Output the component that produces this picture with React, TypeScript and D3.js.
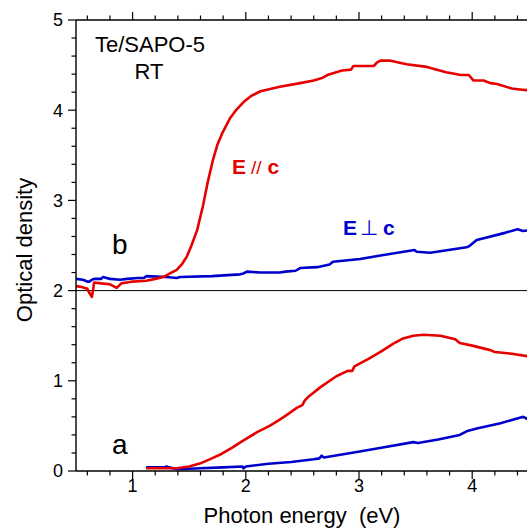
import React from "react";
import * as d3 from "d3";

// Photon energy (eV) vs optical density for Te in SAPO-5 at room temperature.
// Curves "b" are offset by +2 above curves "a".
const parallelB: [number, number][] = [
  [0.5, 2.05], [0.55, 2.04], [0.6, 2.02], [0.62, 1.97], [0.64, 1.93], [0.65, 2.0], [0.66, 2.09],
  [0.72, 2.08], [0.8, 2.07], [0.86, 2.03], [0.9, 2.08], [0.95, 2.09], [1.0, 2.1], [1.12, 2.11],
  [1.2, 2.13], [1.27, 2.15], [1.33, 2.19], [1.39, 2.23], [1.44, 2.3], [1.48, 2.38], [1.52, 2.5],
  [1.57, 2.67], [1.62, 2.93], [1.66, 3.18], [1.71, 3.45], [1.75, 3.62], [1.79, 3.74], [1.86, 3.91],
  [1.92, 4.01], [1.98, 4.09], [2.05, 4.16], [2.13, 4.21], [2.3, 4.26], [2.48, 4.3], [2.6, 4.33],
  [2.68, 4.36], [2.72, 4.39], [2.77, 4.41], [2.85, 4.44], [2.93, 4.45], [2.95, 4.49], [3.05, 4.49],
  [3.13, 4.49], [3.16, 4.53], [3.19, 4.55], [3.27, 4.55], [3.42, 4.51], [3.6, 4.48], [3.77, 4.42],
  [3.9, 4.39], [3.97, 4.39], [4.01, 4.33], [4.1, 4.33], [4.16, 4.3], [4.22, 4.29], [4.35, 4.24],
  [4.42, 4.23], [4.5, 4.22],
];

const perpB: [number, number][] = [
  [0.5, 2.13], [0.56, 2.12], [0.6, 2.1], [0.62, 2.1], [0.64, 2.12], [0.66, 2.13], [0.72, 2.13],
  [0.74, 2.15], [0.77, 2.14], [0.8, 2.13], [0.89, 2.12], [0.95, 2.13], [1.05, 2.14], [1.1, 2.14],
  [1.12, 2.16], [1.3, 2.15], [1.39, 2.14], [1.42, 2.15], [1.7, 2.16], [1.95, 2.18], [1.98, 2.19],
  [2.01, 2.21], [2.13, 2.2], [2.3, 2.2], [2.35, 2.21], [2.44, 2.22], [2.48, 2.25], [2.63, 2.26],
  [2.74, 2.29], [2.77, 2.32], [3.01, 2.35], [3.19, 2.39], [3.49, 2.45], [3.51, 2.43], [3.63, 2.42],
  [3.95, 2.48], [3.97, 2.49], [4.04, 2.56], [4.29, 2.64], [4.4, 2.68], [4.45, 2.66], [4.5, 2.67],
];

const parallelA: [number, number][] = [
  [1.12, 0.03], [1.25, 0.03], [1.39, 0.03], [1.5, 0.05], [1.6, 0.085], [1.7, 0.14], [1.77, 0.18],
  [1.88, 0.26], [1.98, 0.34], [2.1, 0.43], [2.21, 0.5], [2.3, 0.57], [2.36, 0.62], [2.45, 0.7],
  [2.5, 0.73], [2.52, 0.78], [2.55, 0.82], [2.66, 0.93], [2.8, 1.05], [2.9, 1.11], [2.94, 1.11],
  [2.96, 1.16], [3.08, 1.24], [3.19, 1.32], [3.3, 1.41], [3.39, 1.47], [3.48, 1.5], [3.57, 1.51],
  [3.72, 1.5], [3.85, 1.46], [3.89, 1.42], [4.0, 1.39], [4.16, 1.34], [4.2, 1.32], [4.35, 1.3],
  [4.5, 1.27],
];

const perpA: [number, number][] = [
  [1.12, 0.04], [1.28, 0.04], [1.3, 0.05], [1.32, 0.04], [1.4, 0.02], [1.6, 0.03], [1.8, 0.04],
  [1.97, 0.05], [1.98, 0.03], [2.0, 0.05], [2.2, 0.08], [2.4, 0.1], [2.6, 0.13], [2.65, 0.14],
  [2.67, 0.17], [2.69, 0.15], [2.98, 0.21], [3.21, 0.26], [3.48, 0.32], [3.52, 0.31], [3.7, 0.35],
  [3.89, 0.4], [3.95, 0.44], [4.04, 0.47], [4.25, 0.53], [4.42, 0.59], [4.45, 0.6], [4.5, 0.57],
];

const xMajor = [1, 2, 3, 4];
const yMajor = [0, 1, 2, 3, 4, 5];

const W = 527;
const H = 529;
const FONT = "'Liberation Sans', Arial, sans-serif";
const RED = "#e60000";
const BLUE = "#0000cc";

export default function App() {
  const x = d3.scaleLinear().domain([0.5, 4.5]).range([76, 528.8]);
  const y = d3.scaleLinear().domain([0, 5]).range([471, 20]);
  const line = d3
    .line<[number, number]>()
    .x((d) => x(d[0]))
    .y((d) => y(d[1]));

  const xMinor = d3.range(0.6, 4.5, 0.2).filter((v) => Math.abs(v - Math.round(v)) > 0.01);
  const yMinor = d3.range(0.2, 5, 0.2).filter((v) => Math.abs(v - Math.round(v)) > 0.01);

  const [x0, x1] = x.range();
  const [yb, yt] = y.range();

  return (
    <div style={{ position: "absolute", left: 0, top: 0 }}>
      <svg width={W} height={H} style={{ display: "block", background: "#fff" }}>
        <defs>
          <clipPath id="plot">
            <rect x={x0} y={yt} width={x1 - x0} height={yb - yt} />
          </clipPath>
        </defs>

        {/* baseline separating the two offset sets */}
        <line x1={x0} x2={x1} y1={y(2)} y2={y(2)} stroke="#000" strokeWidth={1} />

        <g clipPath="url(#plot)" fill="none" strokeWidth={2.6} strokeLinejoin="round">
          <path d={line(perpB) ?? ""} stroke={BLUE} />
          <path d={line(parallelB) ?? ""} stroke={RED} />
          <path d={line(perpA) ?? ""} stroke={BLUE} />
          <path d={line(parallelA) ?? ""} stroke={RED} />
        </g>

        {/* axes frame */}
        <g stroke="#000" strokeWidth={1.4}>
          <line x1={x0} x2={x1} y1={yb} y2={yb} />
          <line x1={x0} x2={x1} y1={yt} y2={yt} />
          <line x1={x0} x2={x0} y1={yt} y2={yb} />
        </g>

        {/* ticks */}
        <g stroke="#000" strokeWidth={1.2}>
          {xMajor.map((v) => (
            <g key={"xm" + v}>
              <line x1={x(v)} x2={x(v)} y1={yb} y2={yb + 8} />
              <line x1={x(v)} x2={x(v)} y1={yt} y2={yt - 8} />
            </g>
          ))}
          {xMinor.map((v) => (
            <g key={"xn" + v.toFixed(1)}>
              <line x1={x(v)} x2={x(v)} y1={yb} y2={yb + 4.5} />
              <line x1={x(v)} x2={x(v)} y1={yt} y2={yt - 4.5} />
            </g>
          ))}
          {yMajor.map((v) => (
            <line key={"ym" + v} x1={x0} x2={x0 - 8} y1={y(v)} y2={y(v)} />
          ))}
          {yMinor.map((v) => (
            <line key={"yn" + v.toFixed(1)} x1={x0} x2={x0 - 4.5} y1={y(v)} y2={y(v)} />
          ))}
        </g>

        <g fontFamily={FONT} fontSize={18} fill="#000">
          {xMajor.map((v) => (
            <text key={"xl" + v} x={x(v)} y={492} textAnchor="middle">
              {v}
            </text>
          ))}
          {yMajor.map((v) => (
            <text key={"yl" + v} x={63} y={y(v)} dy="0.35em" textAnchor="end">
              {v}
            </text>
          ))}
        </g>

        <g fontFamily={FONT} fill="#000">
          <text x={302} y={523} fontSize={22} textAnchor="middle">
            {"Photon energy \u00a0(eV)"}
          </text>
          <text
            transform="translate(32,250) rotate(-90)"
            fontSize={22}
            textAnchor="middle"
          >
            Optical density
          </text>
          <text x={150} y={52} fontSize={22} textAnchor="middle">
            Te/SAPO-5
          </text>
          <text x={149} y={79} fontSize={22} textAnchor="middle">
            RT
          </text>
          <text x={112} y={254} fontSize={28}>
            b
          </text>
          <text x={112} y={454} fontSize={28}>
            a
          </text>
        </g>

        <g fontFamily={FONT} fontSize={21}>
          <text x={232} y={174} fill={RED}>
            <tspan fontWeight="bold">E</tspan>
            <tspan dx={5} fontWeight="normal" fontSize={19}>//</tspan>
            <tspan dx={6} fontWeight="bold">c</tspan>
          </text>
          <text x={343} y={235} fill={BLUE}>
            <tspan fontWeight="bold">E</tspan>
            <tspan dx={3} fontWeight="normal">⊥</tspan>
            <tspan dx={5} fontWeight="bold">c</tspan>
          </text>
        </g>
      </svg>
    </div>
  );
}
